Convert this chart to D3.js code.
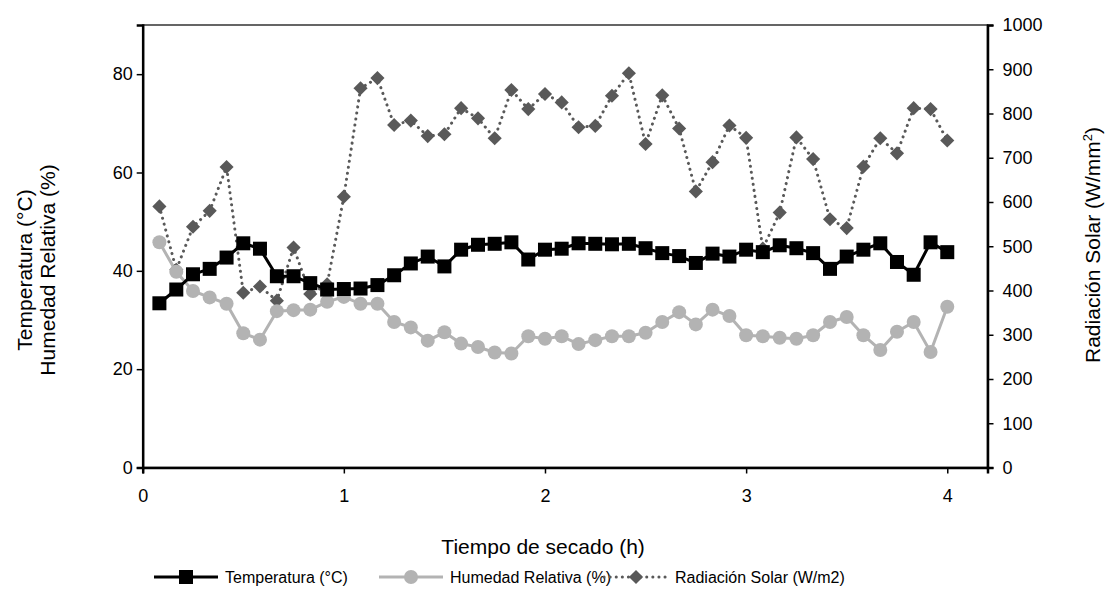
<!DOCTYPE html>
<html><head><meta charset="utf-8">
<script src="https://cdn.jsdelivr.net/npm/d3@7"></script>
<style>body{margin:0;background:#fff;} svg text{font-family:"Liberation Sans",Arial,sans-serif;}</style>
</head><body><svg id="c" width="1106" height="612"></svg>
<script>
const tiempo = [0.083,0.167,0.25,0.333,0.417,0.5,0.583,0.667,0.75,0.833,0.917,1.0,1.083,1.167,1.25,1.333,1.417,1.5,1.583,1.667,1.75,1.833,1.917,2.0,2.083,2.167,2.25,2.333,2.417,2.5,2.583,2.667,2.75,2.833,2.917,3.0,3.083,3.167,3.25,3.333,3.417,3.5,3.583,3.667,3.75,3.833,3.917,4.0];
const temperatura = [33.4,36.2,39.3,40.4,42.7,45.6,44.5,38.9,38.9,37.5,36.2,36.3,36.4,37.1,39.1,41.5,42.9,40.9,44.3,45.3,45.5,45.8,42.3,44.3,44.5,45.6,45.5,45.4,45.5,44.6,43.6,43.0,41.6,43.5,42.9,44.3,43.8,45.2,44.6,43.6,40.4,42.9,44.3,45.6,41.8,39.2,45.8,43.8];
const humedad = [45.8,39.8,35.9,34.6,33.3,27.3,26.0,31.8,32.0,32.1,33.7,34.7,33.3,33.3,29.6,28.5,25.8,27.5,25.2,24.5,23.4,23.2,26.7,26.2,26.7,25.1,25.9,26.7,26.7,27.4,29.6,31.6,29.1,32.1,30.8,26.9,26.7,26.4,26.2,26.9,29.6,30.6,26.9,23.9,27.6,29.6,23.5,32.7];
const radiacion = [590,447,544,580,679,395,409,377,497,392,414,612,857,880,774,784,749,753,812,789,744,853,810,844,825,769,772,840,891,731,841,766,624,690,773,745,495,576,746,697,561,541,680,744,710,812,810,739];
const xTicks = [0,1,2,3,4];
const yLeftTicks = [0,20,40,60,80];
const yRightTicks = [0,100,200,300,400,500,600,700,800,900,1000];

const svg = d3.select("#c");
const L=142.7, R=987.5, T=25, B=467.5;
const x = d3.scaleLinear().domain([0,4.2]).range([L,R]);
const yL = d3.scaleLinear().domain([0,90]).range([B,T]);
const yR = d3.scaleLinear().domain([0,1000]).range([B,T]);

svg.append("rect").attr("x",L).attr("y",T).attr("width",R-L).attr("height",B-T)
  .attr("fill","none").attr("stroke","#333").attr("stroke-width",1.5);

const tfs = "18px", afs = "21px", lfs = "16px";
const ax = svg.append("g").attr("transform",`translate(0,${B})`)
  .call(d3.axisBottom(x).tickValues(xTicks).tickFormat(d3.format("d")).tickSize(6).tickPadding(16));
const ayl = svg.append("g").attr("transform",`translate(${L},0)`)
  .call(d3.axisLeft(yL).tickValues(yLeftTicks).tickFormat(d3.format("d")).tickSize(6).tickPadding(4));
const ayr = svg.append("g").attr("transform",`translate(${R},0)`)
  .call(d3.axisRight(yR).tickValues(yRightTicks).tickFormat(d3.format("d")).tickSize(6).tickPadding(9));
[ax,ayl,ayr].forEach(g=>{
  g.selectAll("text").style("font-size",tfs).attr("fill","#000");
  g.selectAll("line").attr("stroke","#000").attr("stroke-width",1.5);
  g.select(".domain").attr("stroke","#000").attr("stroke-width",2.5);
});

const lineT = d3.line().x((d,i)=>x(tiempo[i])).y(d=>yL(d));
const lineR = d3.line().x((d,i)=>x(tiempo[i])).y(d=>yR(d));

svg.append("path").datum(radiacion).attr("d",lineR).attr("fill","none")
  .attr("stroke","#595959").attr("stroke-width",3).attr("stroke-dasharray","0.1 6").attr("stroke-linecap","round");
svg.append("path").datum(humedad).attr("d",lineT).attr("fill","none")
  .attr("stroke","#b3b3b3").attr("stroke-width",3);
svg.append("path").datum(temperatura).attr("d",lineT).attr("fill","none")
  .attr("stroke","#000").attr("stroke-width",3);

svg.append("g").selectAll("path").data(radiacion).join("path")
  .attr("transform",(d,i)=>`translate(${x(tiempo[i])},${yR(d)}) rotate(45)`)
  .attr("d","M-5,-5H5V5H-5Z").attr("fill","#595959");
svg.append("g").selectAll("circle").data(humedad).join("circle")
  .attr("cx",(d,i)=>x(tiempo[i])).attr("cy",d=>yL(d)).attr("r",7).attr("fill","#b3b3b3");
svg.append("g").selectAll("rect").data(temperatura).join("rect")
  .attr("x",(d,i)=>x(tiempo[i])-7).attr("y",d=>yL(d)-7).attr("width",14).attr("height",14).attr("fill","#000");

svg.append("text").attr("x",(L+R)/2-22).attr("y",554).attr("text-anchor","middle").style("font-size",afs).text("Tiempo de secado (h)");
const lt = svg.append("text").attr("transform","translate(0,270) rotate(-90)").attr("text-anchor","middle").style("font-size",afs);
lt.append("tspan").attr("x",0).attr("y",32).text("Temperatura (°C)");
lt.append("tspan").attr("x",0).attr("y",55).text("Humedad Relativa (%)");
const rt = svg.append("text").attr("transform","translate(1100,245) rotate(-90)").attr("text-anchor","middle").style("font-size",afs);
rt.append("tspan").text("Radiación Solar (W/mm");
rt.append("tspan").attr("dy",-8).style("font-size","13px").text("2");
rt.append("tspan").attr("dy",8).text(")");

const ly = 577;
const leg = [
  {x0:154, label:"Temperatura (°C)", type:"T"},
  {x0:379, label:"Humedad Relativa (%)", type:"H"},
  {x0:604, label:"Radiación Solar (W/m2)", type:"R"}
];
leg.forEach(l=>{
  const g = svg.append("g");
  const ln = g.append("line").attr("x1",l.x0).attr("x2",l.x0+64).attr("y1",ly).attr("y2",ly).attr("stroke-width",3);
  const cx = l.x0+32;
  if(l.type==="T"){ ln.attr("stroke","#000"); g.append("rect").attr("x",cx-7).attr("y",ly-7).attr("width",14).attr("height",14).attr("fill","#000"); }
  if(l.type==="H"){ ln.attr("stroke","#b3b3b3"); g.append("circle").attr("cx",cx).attr("cy",ly).attr("r",7).attr("fill","#b3b3b3"); }
  if(l.type==="R"){ ln.attr("stroke","#595959").attr("stroke-dasharray","0.1 6").attr("stroke-linecap","round");
    g.append("path").attr("transform",`translate(${cx},${ly}) rotate(45)`).attr("d","M-5,-5H5V5H-5Z").attr("fill","#595959"); }
  g.append("text").attr("x",l.x0+71).attr("y",ly+6).style("font-size",lfs).text(l.label);
});
</script></body></html>
